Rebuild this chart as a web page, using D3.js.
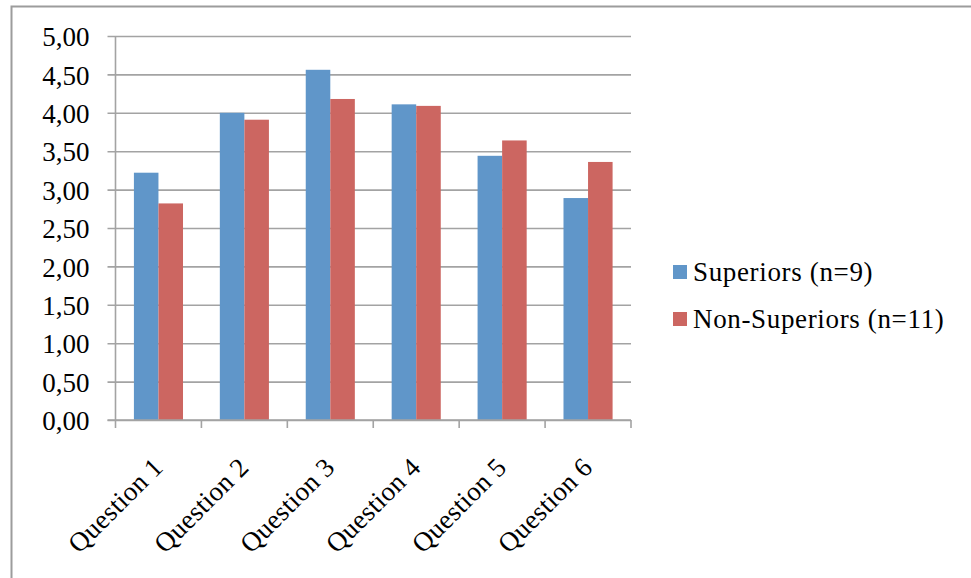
<!DOCTYPE html>
<html>
<head>
<meta charset="utf-8">
<script src="https://cdn.jsdelivr.net/npm/d3@7"></script>
<style>
  html, body { margin: 0; padding: 0; background: #ffffff; }
  svg { display: block; }
  text { font-family: "Liberation Serif", "DejaVu Serif", serif; fill: #000; }
</style>
</head>
<body>
<svg id="chart" width="971" height="578"></svg>
<script>
// Mean scores per question for the two respondent groups
const categories = ["Question 1", "Question 2", "Question 3", "Question 4", "Question 5", "Question 6"];
const seriesNames = ["Superiors (n=9)", "Non-Superiors (n=11)"];
const superiors = [3.22, 4.00, 4.56, 4.11, 3.44, 2.89];
const nonSuperiors = [2.82, 3.91, 4.18, 4.09, 3.64, 3.36];
const yTicks = [0, 0.5, 1, 1.5, 2, 2.5, 3, 3.5, 4, 4.5, 5];
const colors = ["#6096c9", "#cc6661"];

const series = [superiors, nonSuperiors];
const svg = d3.select("#chart");
const fontSize = 27;

// Frame around the whole chart area
svg.append("rect")
  .attr("x", 11.5).attr("y", 6.5)
  .attr("width", 1000).attr("height", 600)
  .attr("fill", "none")
  .attr("stroke", "#9c9c9c")
  .attr("stroke-width", 2);

const plot = { left: 115.5, right: 631, top: 36, bottom: 420 };

const y = d3.scaleLinear().domain([0, 5]).range([plot.bottom, plot.top]);

// Bars take 2/3.5 of each category slot (gap width 150%)
const x0 = d3.scaleBand()
  .domain(categories)
  .range([plot.left, plot.right])
  .paddingInner(1.5 / 3.5)
  .paddingOuter(0.75 / 3.5);
const x1 = d3.scaleBand()
  .domain(d3.range(series.length))
  .range([0, x0.bandwidth()]);

const gridColor = "#a3a3a3";

// Horizontal gridlines with ticks to the left of the value axis
const yAxis = d3.axisLeft(y)
  .tickValues(yTicks)
  .tickSize(-(plot.right - plot.left) - 8)
  .tickPadding(0)
  .tickFormat("");
svg.append("g")
  .attr("transform", `translate(${plot.right},0)`)
  .call(g => {
    g.call(yAxis);
    g.select(".domain").remove();
    g.selectAll(".tick line")
      .attr("x1", 0)
      .attr("x2", plot.left - plot.right - 8)
      .attr("stroke", gridColor)
      .attr("stroke-width", 1.6);
  });

// Value labels with comma decimal separator
svg.append("g").selectAll("text")
  .data(yTicks)
  .join("text")
  .attr("x", 89.5)
  .attr("y", d => y(d))
  .attr("dy", "0.38em")
  .attr("text-anchor", "end")
  .attr("font-size", fontSize)
  .text(d => d.toFixed(2).replace(".", ","));

// Bars
const groups = svg.append("g").selectAll("g")
  .data(series)
  .join("g")
  .attr("fill", (d, i) => colors[i]);
groups.selectAll("rect")
  .data((vals, si) => vals.map((v, ci) => ({ v, ci, si })))
  .join("rect")
  .attr("x", d => x0(categories[d.ci]) + x1(d.si))
  .attr("y", d => y(d.v))
  .attr("width", x1.bandwidth())
  .attr("height", d => y(0) - y(d.v));

// Value axis line
svg.append("line")
  .attr("x1", plot.left).attr("x2", plot.left)
  .attr("y1", plot.top).attr("y2", plot.bottom)
  .attr("stroke", gridColor).attr("stroke-width", 1.6);

// Category axis with ticks between categories
const boundaries = categories.map(c => x0(c) - x0.step() * x0.paddingOuter()).concat([plot.right]);
svg.append("line")
  .attr("x1", plot.left - 8).attr("x2", plot.right)
  .attr("y1", plot.bottom).attr("y2", plot.bottom)
  .attr("stroke", gridColor).attr("stroke-width", 1.6);
svg.append("g").selectAll("line")
  .data(boundaries)
  .join("line")
  .attr("x1", d => d).attr("x2", d => d)
  .attr("y1", plot.bottom).attr("y2", plot.bottom + 8)
  .attr("stroke", gridColor).attr("stroke-width", 1.6);

// Rotated category labels
svg.append("g").selectAll("text")
  .data(categories)
  .join("text")
  .attr("transform", c => `translate(${x0(c) + x0.bandwidth() / 2 + 6},469) rotate(-45)`)
  .attr("text-anchor", "end")
  .attr("font-size", fontSize)
  .attr("letter-spacing", 0.3)
  .text(c => c);

// Legend
const legend = svg.append("g").selectAll("g")
  .data(seriesNames)
  .join("g")
  .attr("transform", (d, i) => `translate(673,${265 + i * 47})`);
legend.append("rect")
  .attr("width", 14).attr("height", 14)
  .attr("fill", (d, i) => colors[i]);
legend.append("text")
  .attr("x", 20).attr("y", 16)
  .attr("font-size", fontSize)
  .attr("letter-spacing", 0.65)
  .text(d => d);
</script>
</body>
</html>
